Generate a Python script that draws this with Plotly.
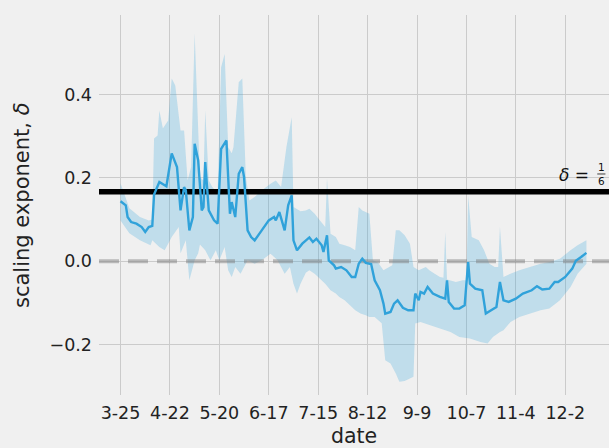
import pandas as pd
import plotly.graph_objects as go

# ---------------- data ----------------
BASE_DATE = "2020-03-25"

line_day = [0, 3, 4, 6, 9, 12, 14, 16, 18, 19, 22, 26, 29, 31, 32, 34, 36, 37, 39, 41,
            42, 44, 46, 47, 48, 50, 53, 55, 57, 60, 61, 62, 63, 65, 67, 69, 70, 72, 74, 76,
            80, 84, 87, 88, 90, 93, 95, 97, 98, 100, 103, 105, 107, 109, 111, 114, 115, 117, 118, 121,
            122, 125, 128, 131, 133, 135, 137, 139, 142, 144, 147, 149, 150, 153, 155, 157, 160, 163, 166, 167,
            169, 170, 172, 174, 177, 181, 184, 185, 186, 189, 192, 195, 197, 198, 201, 205, 207, 210, 213, 215,
            217, 220, 224, 228, 233, 236, 239, 243, 246, 248, 252, 256, 258, 261, 264]
line_val = [0.144, 0.134, 0.106, 0.094, 0.090, 0.082, 0.070, 0.082, 0.085, 0.160, 0.190, 0.180, 0.259, 0.235, 0.226, 0.122, 0.178, 0.170, 0.074, 0.106,
            0.282, 0.242, 0.122, 0.130, 0.238, 0.122, 0.098, 0.090, 0.270, 0.290, 0.202, 0.114, 0.142, 0.106, 0.210, 0.226, 0.202, 0.074, 0.058, 0.050,
            0.074, 0.098, 0.106, 0.098, 0.118, 0.074, 0.134, 0.158, 0.050, 0.026, 0.042, 0.050, 0.057, 0.046, 0.054, 0.038, 0.022, 0.062, 0.002, -0.010,
            -0.018, -0.014, -0.022, -0.038, -0.038, -0.006, 0.006, -0.004, -0.007, -0.046, -0.070, -0.102, -0.126, -0.122, -0.102, -0.094, -0.112, -0.118, -0.118, -0.078,
            -0.094, -0.074, -0.078, -0.062, -0.078, -0.086, -0.090, -0.046, -0.098, -0.114, -0.114, -0.106, -0.002, -0.054, -0.066, -0.070, -0.126, -0.118, -0.110, -0.050,
            -0.094, -0.098, -0.090, -0.078, -0.070, -0.060, -0.068, -0.066, -0.050, -0.050, -0.038, -0.018, 0.001, 0.010, 0.020]

upper_day = [0, 5, 11, 16, 18, 19, 21, 22, 24, 27, 29, 31, 34, 36, 38, 40, 42, 44, 45, 47,
             48, 50, 52, 55, 57, 59, 61, 63, 64, 67, 69, 71, 73, 76, 80, 85, 88, 91, 94, 97,
             98, 102, 105, 107, 110, 113, 116, 117, 119, 122, 124, 127, 130, 133, 135, 137, 139, 141, 143, 146,
             149, 154, 156, 158, 161, 164, 166, 169, 173, 175, 178, 181, 183, 184, 185, 187, 190, 194, 196, 197,
             199, 203, 206, 209, 212, 214, 215, 217, 221, 226, 232, 238, 243, 249, 255, 259, 264]
upper_val = [0.187, 0.127, 0.106, 0.098, 0.100, 0.295, 0.302, 0.362, 0.319, 0.338, 0.439, 0.422, 0.314, 0.314, 0.194, 0.226, 0.547, 0.314, 0.202, 0.194,
             0.362, 0.194, 0.178, 0.163, 0.466, 0.498, 0.274, 0.259, 0.274, 0.430, 0.439, 0.202, 0.146, 0.154, 0.170, 0.186, 0.194, 0.178, 0.274, 0.346,
             0.130, 0.120, 0.122, 0.126, 0.114, 0.098, 0.082, 0.198, 0.066, 0.058, 0.042, 0.038, 0.034, 0.026, 0.130, 0.122, 0.118, 0.114, 0.002, -0.004,
             -0.022, -0.010, 0.074, 0.074, 0.062, 0.042, -0.014, -0.022, -0.014, -0.022, -0.030, -0.038, -0.040, 0.070, -0.044, -0.046, -0.050, -0.046, -0.046, 0.158,
             0.058, 0.050, 0.026, -0.006, -0.014, -0.014, 0.082, -0.038, -0.030, -0.022, -0.014, -0.006, -0.002, 0.006, 0.026, 0.038, 0.050]

lower_day = [0, 5, 11, 17, 18, 22, 25, 29, 33, 34, 37, 39, 42, 44, 45, 48, 51, 54, 56, 59,
             61, 63, 65, 68, 70, 72, 76, 80, 85, 89, 93, 96, 98, 100, 102, 105, 107, 110, 113, 116,
             119, 122, 124, 127, 130, 133, 136, 139, 141, 144, 148, 150, 153, 156, 158, 161, 166, 167, 170, 175,
             181, 187, 192, 198, 204, 208, 211, 215, 217, 221, 226, 232, 238, 243, 249, 255, 259, 264]
lower_val = [0.098, 0.067, 0.050, 0.038, 0.050, 0.034, 0.026, 0.058, 0.082, 0.019, 0.050, -0.046, 0.002, 0.019, 0.040, 0.026, 0.002, 0.026, 0.002, 0.034,
             -0.022, -0.038, -0.014, -0.030, -0.014, 0.002, -0.006, 0.002, 0.018, 0.002, -0.030, -0.014, -0.054, -0.078, -0.054, -0.028, -0.022, -0.030, -0.042, -0.054,
             -0.070, -0.078, -0.086, -0.094, -0.106, -0.118, -0.126, -0.130, -0.134, -0.134, -0.149, -0.238, -0.246, -0.270, -0.290, -0.288, -0.278, -0.150, -0.146, -0.154,
             -0.162, -0.170, -0.182, -0.186, -0.194, -0.198, -0.182, -0.170, -0.166, -0.146, -0.134, -0.126, -0.118, -0.114, -0.094, -0.062, -0.030, -0.006]

tick_dates = ["2020-03-25", "2020-04-22", "2020-05-20", "2020-06-17", "2020-07-15",
              "2020-08-12", "2020-09-09", "2020-10-07", "2020-11-04", "2020-12-02"]
tick_text = ["3-25", "4-22", "5-20", "6-17", "7-15", "8-12", "9-9", "10-7", "11-4", "12-2"]
y_ticks = [-0.2, 0.0, 0.2, 0.4]
reference_delta = 1 / 6

# ---------------- build ----------------
base = pd.Timestamp(BASE_DATE)
to_dates = lambda days: base + pd.to_timedelta(days, unit="D")
line_x = to_dates(line_day)
upper_x = to_dates(upper_day)
lower_x = to_dates(lower_day)

x_lo = base + pd.Timedelta(days=-12.2)
x_hi = base + pd.Timedelta(days=276.8)

BLUE = "#30a2da"
BG = "#f0f0f0"
FONT = "DejaVu Sans"

fig = go.Figure()

band_x = list(upper_x) + list(lower_x[::-1])
band_y = upper_val + lower_val[::-1]
fig.add_trace(go.Scatter(x=band_x, y=band_y, fill="toself", mode="lines",
                         line=dict(width=0), fillcolor="rgba(48,162,218,0.25)",
                         hoverinfo="skip", showlegend=False))

fig.add_trace(go.Scatter(x=[x_lo, x_hi], y=[0, 0], mode="lines",
                         line=dict(color="rgba(128,128,128,0.5)", width=4, dash="20px,9px"),
                         showlegend=False))
fig.add_trace(go.Scatter(x=[x_lo, x_hi], y=[reference_delta, reference_delta], mode="lines",
                         line=dict(color="black", width=5.5), showlegend=False))
fig.add_trace(go.Scatter(x=line_x, y=line_val, mode="lines",
                         line=dict(color=BLUE, width=2.4), showlegend=False))

fig.update_layout(
    width=609, height=448,
    margin=dict(l=99, r=0, t=15, b=53),
    paper_bgcolor=BG, plot_bgcolor=BG,
    font=dict(family=FONT, size=17.5, color="#222222"),
    showlegend=False,
)
fig.update_xaxes(type="date", range=[x_lo, x_hi], tickvals=pd.to_datetime(tick_dates),
                 ticktext=tick_text, showgrid=True, gridcolor="#cbcbcb", gridwidth=1,
                 zeroline=False, showline=False, ticks="", ticklabelstandoff=5)
fig.update_yaxes(range=[-0.3216, 0.5915], tickvals=y_ticks, tickformat=".1f",
                 showgrid=True, gridcolor="#cbcbcb", gridwidth=1, zeroline=False,
                 showline=False, ticks="", ticklabelstandoff=6)

fig.add_annotation(text="scaling exponent, <i>δ</i>", xref="paper", yref="paper",
                   x=-0.151, y=0.5, textangle=-90, showarrow=False,
                   font=dict(size=21, family=FONT, color="#222222"),
                   xanchor="center", yanchor="middle")
fig.add_annotation(text="date", xref="paper", yref="paper", x=0.5, y=-0.108,
                   showarrow=False, font=dict(size=20.5, family=FONT, color="#222222"),
                   xanchor="center", yanchor="middle")
# delta = 1/6 label
fig.add_annotation(text="<i>δ</i> =", xref="paper", yref="y", x=0.965, y=0.206,
                   showarrow=False, font=dict(size=17, family=FONT, color="#111111"),
                   xanchor="right", yanchor="middle")
fig.add_annotation(text="1", xref="paper", yref="y", x=0.985, y=0.2256,
                   showarrow=False, font=dict(size=10.5, family=FONT, color="#111111"),
                   xanchor="center", yanchor="middle")
fig.add_annotation(text="6", xref="paper", yref="y", x=0.985, y=0.193,
                   showarrow=False, font=dict(size=10.5, family=FONT, color="#111111"),
                   xanchor="center", yanchor="middle")
fig.add_shape(type="line", xref="paper", yref="y", x0=0.977, x1=0.993, y0=0.2095, y1=0.2095,
              line=dict(color="#111111", width=0.8))

fig.write_html("out.html", config={"displayModeBar": False},
               post_script="document.body.style.margin='0';document.body.style.background='#f0f0f0';")
